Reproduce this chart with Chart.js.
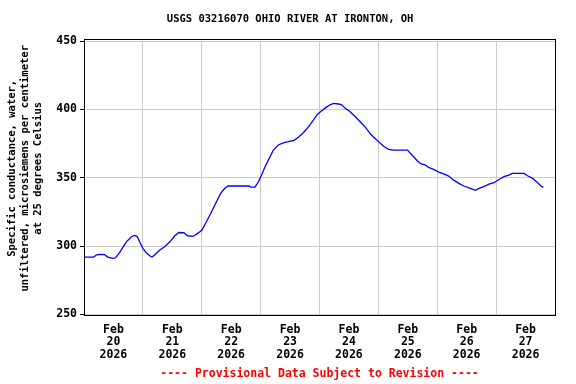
<!DOCTYPE html>
<html>
<head>
<meta charset="utf-8">
<script src="https://cdn.jsdelivr.net/npm/chart.js@4"></script>
<style>
  body { margin: 0; background: #ffffff; }
</style>
</head>
<body>
<canvas id="usgsChart" width="576" height="384"></canvas>
<script>
// Hours since Feb 20 2026 00:00 and specific conductance readings
const hoursFromStart = [0, 3.9, 5, 6.3, 8.4, 9.7, 11.8, 12.9, 14.5, 17.2, 19.3, 20.6, 21.7, 22.7, 24, 25.4, 26.8, 27.7, 28.8, 30.9, 32.9, 34.9, 37, 38.7, 40.7, 42.2, 44.5, 46.5, 48.1, 49.9, 52, 54, 55.7, 57.4, 58.8, 67.3, 68, 69.7, 71.1, 72.4, 73.8, 75.5, 77.2, 79.2, 81.2, 83.3, 85.6, 87.4, 89.4, 91.5, 93.5, 95.1, 96.9, 98.7, 100.3, 101.7, 103.7, 105.1, 106.5, 108.5, 110.6, 112.6, 114.6, 116.8, 118.7, 120.8, 122.4, 124.2, 126.2, 131.9, 133, 134.4, 135.8, 137.4, 139.1, 140.5, 142.5, 144.6, 146.6, 148.7, 150.7, 152.8, 154.8, 157.5, 159.6, 161, 163, 165.1, 167.1, 169.2, 171.2, 173.2, 174.6, 179.4, 180.8, 182.9, 184.9, 186.2, 187.2];
const conductance = [292, 292, 293.5, 294, 293.8, 292, 291, 291.5, 295.2, 303, 306.9, 307.9, 307, 303, 298.4, 295.2, 293, 292, 293.5, 297.2, 299.6, 303, 307.6, 310, 309.8, 307.6, 307.1, 309.5, 311.8, 317.9, 325.2, 332.5, 338.6, 342.3, 344, 344, 343.2, 343.2, 347.1, 352, 358.1, 364.2, 370.3, 374, 375.6, 376.4, 377.4, 379.6, 383, 387.3, 392.2, 396.4, 399, 401.5, 403.4, 404.4, 404, 403.4, 400.8, 398.3, 394.6, 391, 387.3, 382, 378.8, 375.2, 372.7, 370.8, 370.3, 370.3, 367.9, 365.4, 362.5, 360.1, 359.4, 357.6, 356.2, 354.2, 352.8, 351.3, 348.3, 345.9, 344, 342.3, 340.8, 342.3, 343.5, 345.4, 346.4, 348.8, 350.8, 352, 353.2, 353.2, 351.5, 349.6, 346.4, 344.2, 343];

// x tick labels (one per day, centered at noon)
const dayLabels = ['20', '21', '22', '23', '24', '25', '26', '27'];
const monthLabel = 'Feb';
const yearLabel = '2026';

const MONO = '"DejaVu Sans Mono", "Liberation Mono", monospace';

// black frame around the plot
const framePlugin = {
  id: 'frame',
  afterDraw(chart) {
    const { ctx, chartArea: a } = chart;
    ctx.save();
    ctx.strokeStyle = '#000000';
    ctx.lineWidth = 1;
    ctx.strokeRect(Math.round(a.left) + 0.5, Math.round(a.top) - 1.5,
      Math.round(a.right - a.left), Math.round(a.bottom - a.top) + 3);
    ctx.restore();
  }
};

new Chart(document.getElementById('usgsChart'), {
  type: 'line',
  data: {
    datasets: [{
      data: hoursFromStart.map((h, i) => ({ x: h, y: conductance[i] })),
      borderColor: '#0000ff',
      borderWidth: 1.3,
      pointRadius: 0,
      tension: 0,
      fill: false
    }]
  },
  options: {
    responsive: false,
    animation: false,
    layout: { padding: { left: 0, right: 21, top: 0, bottom: 0 } },
    plugins: {
      legend: { display: false },
      tooltip: { enabled: false },
      title: {
        display: true,
        // leading spaces nudge it to the page centre (box excludes right padding)
        text: '    USGS 03216070 OHIO RIVER AT IRONTON, OH',
        color: '#000000',
        font: { family: MONO, size: 10.5, weight: 'bold' },
        padding: { top: 13, bottom: 15.5 }
      }
    },
    scales: {
      x: {
        type: 'linear',
        min: 0,
        max: 192,
        afterFit: s => { s.height = 69.5; },
        grid: {
          drawTicks: false,
          color: c => (c.tick && c.tick.value % 24 === 0) ? '#cccccc' : 'rgba(0,0,0,0)'
        },
        border: { display: false },
        ticks: {
          stepSize: 12,
          autoSkip: false,
          maxRotation: 0,
          padding: 9,
          color: '#000000',
          font: { family: MONO, size: 11.5, weight: 'bold', lineHeight: 1.1 },
          callback: v => {
            if (v % 24 !== 12) return '';
            return [monthLabel, dayLabels[(v - 12) / 24], yearLabel];
          }
        },
        title: {
          display: true,
          text: '---- Provisional Data Subject to Revision ----',
          color: '#ff0000',
          font: { family: MONO, size: 11.5, weight: 'bold' },
          padding: { top: 0, bottom: 3 }
        }
      },
      y: {
        min: 250,
        max: 450,
        afterFit: s => { s.width = 84; },
        grid: { color: '#cccccc', tickLength: 4, tickColor: '#000000' },
        border: { display: false },
        ticks: {
          stepSize: 50,
          padding: 3,
          color: '#000000',
          font: { family: MONO, size: 11.5, weight: 'bold' }
        },
        title: {
          display: true,
          text: ['   Specific conductance, water,', '   unfiltered, microsiemens per centimeter', '   at 25 degrees Celsius'],
          color: '#000000',
          font: { family: MONO, size: 10.5, weight: 'bold', lineHeight: 1.25 },
          padding: { top: 5.5, bottom: 0 }
        }
      }
    }
  },
  plugins: [framePlugin]
});
</script>
</body>
</html>
